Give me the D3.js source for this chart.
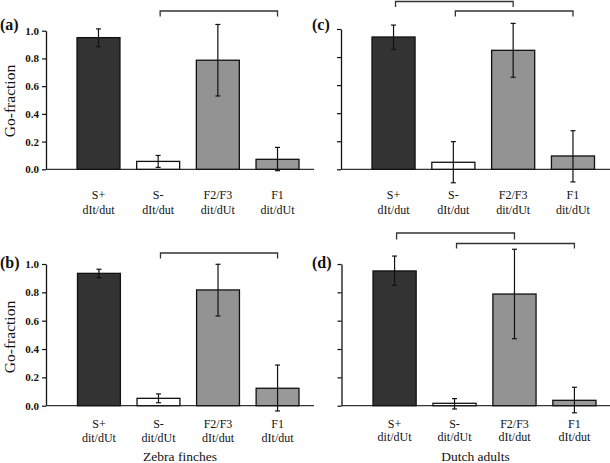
<!DOCTYPE html>
<html>
<head>
<meta charset="utf-8">
<script src="https://cdn.jsdelivr.net/npm/d3@7"></script>
<style>
  html, body { margin: 0; padding: 0; background: #fff; }
  svg { display: block; }
  text { font-family: "Liberation Serif", "Times New Roman", serif; fill: #111; }
</style>
</head>
<body>
<svg id="chart" width="610" height="463"></svg>
<script>
// ---------- data ----------
const categories = ["S+", "S-", "F2/F3", "F1"];
const subLabelsTop = ["dIt/dut", "dIt/dut", "dit/dUt", "dit/dUt"];
const subLabelsBottom = ["dit/dUt", "dit/dUt", "dIt/dut", "dIt/dut"];
const yTicks = [0, 0.2, 0.4, 0.6, 0.8, 1.0];
const groupTitles = ["Zebra finches", "Dutch adults"];

// (a) Zebra finches, top
const valuesA = [0.95, 0.057, 0.787, 0.072];
const lowA    = [0.885, 0.014, 0.529, -0.01];
const highA   = [1.013, 0.100, 1.045, 0.158];
// (b) Zebra finches, bottom
const valuesB = [0.934, 0.052, 0.817, 0.123];
const lowB    = [0.904, 0.021, 0.633, -0.037];
const highB   = [0.963, 0.083, 0.998, 0.287];
// (c) Dutch adults, top
const valuesC = [0.943, 0.05, 0.848, 0.095];
const lowC    = [0.855, -0.096, 0.656, -0.09];
const highC   = [1.028, 0.197, 1.04, 0.275];
// (d) Dutch adults, bottom
const valuesD = [0.951, 0.017, 0.788, 0.038];
const lowD    = [0.85, -0.023, 0.473, -0.05];
const highD   = [1.056, 0.05, 1.104, 0.13];

// significance brackets: [from category, to category]
const bracketsA = [[1, 3]];
const bracketsB = [[1, 3]];
const bracketsC = [[0, 2], [1, 3]];
const bracketsD = [[0, 2], [1, 3]];

// ---------- layout ----------
const barColors = ["#333333", "#ffffff", "#939393", "#999999"];

const panels = [
  { letter: "(a)", values: valuesA, low: lowA, high: highA, sub: subLabelsTop, brackets: bracketsA,
    axisX: 46, lineEnd: 314, yTop: 30.7, yBase: 169.3, band: [77, 299],
    bracketY: [[11, 16.5]], letterX: 0, letterY: 30, cat1Y: 198.5, cat2Y: 213.5, labels: true, ylab: 101 },
  { letter: "(b)", values: valuesB, low: lowB, high: highB, sub: subLabelsBottom, brackets: bracketsB,
    axisX: 46, lineEnd: 314, yTop: 264, yBase: 405.7, band: [77.5, 299],
    bracketY: [[253, 258.5]], letterX: 0, letterY: 268, cat1Y: 428, cat2Y: 441.5, labels: true, ylab: 337,
    title: groupTitles[0], titleX: 180 },
  { letter: "(c)", values: valuesC, low: lowC, high: highC, sub: subLabelsTop, brackets: bracketsC,
    axisX: 341, lineEnd: 610, yTop: 29, yBase: 169.3, band: [372, 594.5],
    bracketY: [[1.5, 7], [11, 16.5]], letterX: 312, letterY: 30, cat1Y: 199, cat2Y: 214, labels: false },
  { letter: "(d)", values: valuesD, low: lowD, high: highD, sub: subLabelsBottom, brackets: bracketsD,
    axisX: 341.5, lineEnd: 610, yTop: 264, yBase: 405.7, band: [373, 596],
    bracketY: [[233, 239.5], [243.5, 248.5]], letterX: 312, letterY: 268, cat1Y: 427.5, cat2Y: 440.5, labels: false,
    title: groupTitles[1], titleX: 475.5 }
];

const svg = d3.select("#chart");

panels.forEach(p => {
  const g = svg.append("g");
  const x = d3.scaleBand().domain(categories).range(p.band).paddingInner(0.28).paddingOuter(0);
  const y = d3.scaleLinear().domain([0, 1]).range([p.yBase, p.yTop]);

  // y axis
  const yAxis = d3.axisLeft(y).tickValues(yTicks).tickSizeInner(4).tickSizeOuter(0)
    .tickPadding(3)
    .tickFormat(p.labels ? d3.format(".1f") : () => "");
  const ax = g.append("g").attr("transform", `translate(${p.axisX},0)`).call(yAxis);
  ax.select(".domain").attr("stroke", "#111").attr("stroke-width", 1.3);
  ax.selectAll(".tick line").attr("stroke", "#111").attr("stroke-width", 1.2);
  ax.selectAll(".tick text").attr("font-family", "Liberation Serif, serif")
    .attr("font-size", 11).attr("font-weight", "bold").attr("fill", "#222");

  // baseline
  g.append("line").attr("x1", p.axisX).attr("x2", p.lineEnd)
    .attr("y1", y(0)).attr("y2", y(0)).attr("stroke", "#333").attr("stroke-width", 1.3);

  // bars
  g.selectAll("rect.bar").data(categories).enter().append("rect")
    .attr("class", "bar")
    .attr("x", d => x(d))
    .attr("width", x.bandwidth())
    .attr("y", (d, i) => y(p.values[i]))
    .attr("height", (d, i) => y(0) - y(p.values[i]))
    .attr("fill", (d, i) => barColors[i])
    .attr("stroke", "#111").attr("stroke-width", 1.3);

  // error bars
  const cap = 2.5;
  categories.forEach((c, i) => {
    const cx = x(c) + x.bandwidth() / 2;
    const eg = g.append("g").attr("stroke", "#111").attr("stroke-width", 1.2);
    eg.append("line").attr("x1", cx).attr("x2", cx).attr("y1", y(p.low[i])).attr("y2", y(p.high[i]));
    eg.append("line").attr("x1", cx - cap).attr("x2", cx + cap).attr("y1", y(p.low[i])).attr("y2", y(p.low[i]));
    eg.append("line").attr("x1", cx - cap).attr("x2", cx + cap).attr("y1", y(p.high[i])).attr("y2", y(p.high[i]));
  });

  // brackets
  p.brackets.forEach((b, k) => {
    const xa = x(categories[b[0]]) + x.bandwidth() / 2 + 2;
    const xb = x(categories[b[1]]) + x.bandwidth() / 2;
    const [top, leg] = p.bracketY[k];
    g.append("path")
      .attr("d", `M${xa},${leg}V${top}H${xb}V${leg}`)
      .attr("fill", "none").attr("stroke", "#333").attr("stroke-width", 1.3);
  });

  // category labels
  categories.forEach((c, i) => {
    const cx = x(c) + x.bandwidth() / 2;
    g.append("text").attr("x", cx).attr("y", p.cat1Y).attr("text-anchor", "middle")
      .attr("font-size", 12).text(c);
    g.append("text").attr("x", cx).attr("y", p.cat2Y).attr("text-anchor", "middle")
      .attr("font-size", 12).text(p.sub[i]);
  });

  // panel letter
  g.append("text").attr("x", p.letterX).attr("y", p.letterY)
    .attr("font-size", 16).attr("font-weight", "bold").text(p.letter);

  // y label
  if (p.ylab) {
    g.append("text").attr("transform", `translate(15,${p.ylab}) rotate(-90)`)
      .attr("text-anchor", "middle").attr("font-size", 15.5).text("Go-fraction");
  }

  // group title
  if (p.title) {
    g.append("text").attr("x", p.titleX).attr("y", 460.5).attr("text-anchor", "middle")
      .attr("font-size", 13.5).text(p.title);
  }
});
</script>
</body>
</html>
